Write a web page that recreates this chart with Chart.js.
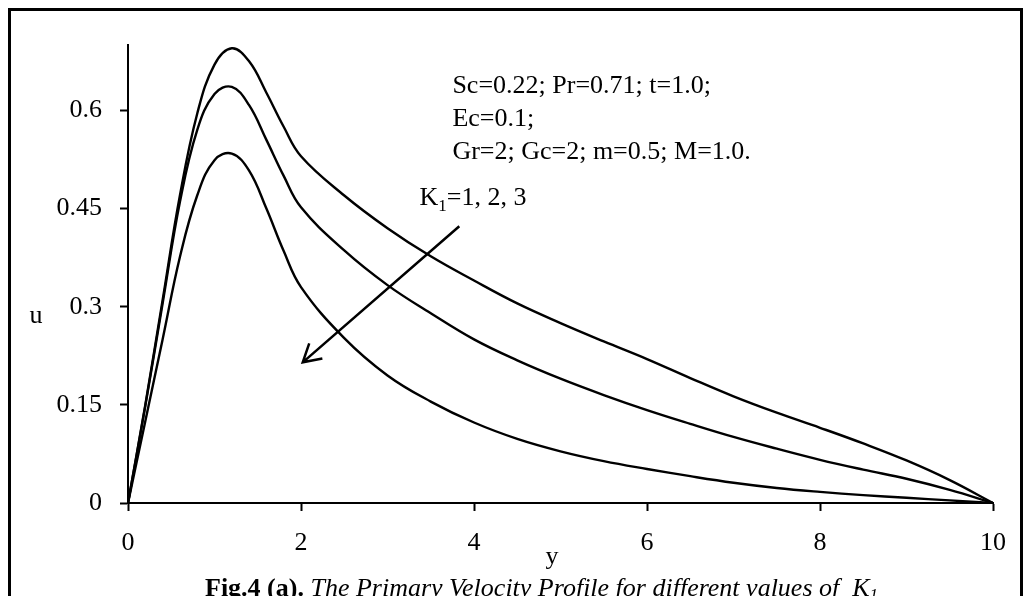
<!DOCTYPE html>
<html>
<head>
<meta charset="utf-8">
<script src="https://cdn.jsdelivr.net/npm/chart.js@4.4.1/dist/chart.umd.min.js"></script>
<style>
  html, body { margin: 0; padding: 0; background: #fff; }
</style>
</head>
<body>
<canvas id="graph" width="1023" height="596"></canvas>
<script>
  // y positions (x axis of the plot) shared by the three profiles
  const yPos = [0, 0.2, 0.4, 0.6, 0.8, 1.0, 1.2, 1.4, 1.6, 1.8, 2.0, 2.5, 3.0, 3.5, 4.0, 4.5, 5, 5.5, 6, 6.5, 7, 7.5, 8, 8.5, 9, 9.5, 10];

  // primary velocity u for K1 = 1, 2, 3
  const uK1 = [0, 0.15, 0.31, 0.47, 0.595, 0.67, 0.695, 0.675, 0.627, 0.575, 0.53, 0.47, 0.42, 0.377, 0.34, 0.305, 0.275, 0.247, 0.22, 0.191, 0.163, 0.138, 0.115, 0.091, 0.065, 0.035, 0];
  const uK2 = [0, 0.148, 0.305, 0.46, 0.57, 0.625, 0.636, 0.608, 0.555, 0.50, 0.452, 0.386, 0.333, 0.29, 0.25, 0.218, 0.19, 0.165, 0.142, 0.121, 0.101, 0.083, 0.066, 0.051, 0.037, 0.02, 0];
  const uK3 = [0, 0.125, 0.25, 0.376, 0.47, 0.524, 0.534, 0.508, 0.45, 0.385, 0.33, 0.252, 0.195, 0.155, 0.123, 0.098, 0.079, 0.064, 0.052, 0.041, 0.031, 0.023, 0.017, 0.012, 0.008, 0.004, 0];

  const xTicks = [0, 2, 4, 6, 8, 10];
  const uTicks = [0, 0.15, 0.3, 0.45, 0.6];

  const paramLines = ['Sc=0.22; Pr=0.71; t=1.0;', 'Ec=0.1;', 'Gr=2; Gc=2; m=0.5; M=1.0.'];

  const serif = "'Liberation Serif', 'Times New Roman', serif";

  function toPoints(vals) {
    return yPos.map((v, i) => ({ x: v, y: vals[i] }));
  }

  // text, arrow, axis names, caption and frame drawn over the chart
  const annotations = {
    id: 'annotations',
    afterDraw(chart) {
      const { ctx, scales: { x, y } } = chart;
      ctx.save();
      ctx.fillStyle = '#000';
      ctx.strokeStyle = '#000';

      // outer frame
      ctx.lineWidth = 3;
      ctx.strokeRect(9.5, 9.5, 1012, 700);

      // parameter block
      ctx.font = '26px ' + serif;
      ctx.textAlign = 'left';
      ctx.textBaseline = 'alphabetic';
      const px = x.getPixelForValue(3.75);
      const py = y.getPixelForValue(0.627);
      paramLines.forEach((line, i) => ctx.fillText(line, px, py + i * 33));

      // K1 = 1, 2, 3 label
      let kx = x.getPixelForValue(3.37);
      const ky = y.getPixelForValue(0.455);
      ctx.fillText('K', kx, ky);
      kx += ctx.measureText('K').width;
      ctx.font = '17px ' + serif;
      ctx.fillText('1', kx, ky + 6);
      kx += ctx.measureText('1').width;
      ctx.font = '26px ' + serif;
      ctx.fillText('=1, 2, 3', kx, ky);

      // arrow
      const ax0 = x.getPixelForValue(3.83), ay0 = y.getPixelForValue(0.423);
      const ax1 = x.getPixelForValue(2.02), ay1 = y.getPixelForValue(0.215);
      ctx.lineWidth = 2.5;
      ctx.beginPath();
      ctx.moveTo(ax0, ay0);
      ctx.lineTo(ax1, ay1);
      const ang = Math.atan2(ay0 - ay1, ax0 - ax1);
      const head = 20, spread = Math.PI / 6;
      ctx.moveTo(ax1 + head * Math.cos(ang - spread), ay1 + head * Math.sin(ang - spread));
      ctx.lineTo(ax1, ay1);
      ctx.lineTo(ax1 + head * Math.cos(ang + spread), ay1 + head * Math.sin(ang + spread));
      ctx.stroke();

      // axis names
      ctx.textAlign = 'center';
      ctx.fillText('u', 36, y.getPixelForValue(0.3) + 16);
      ctx.fillText('y', 552, 564);

      // caption
      ctx.textAlign = 'left';
      let cx = 205;
      const cy = 596;
      ctx.font = 'bold 26px ' + serif;
      ctx.fillText('Fig.4 (a).', cx, cy);
      cx += ctx.measureText('Fig.4 (a). ').width;
      ctx.font = 'italic 26px ' + serif;
      const capText = 'The Primary Velocity Profile for different values of  K';
      ctx.fillText(capText, cx, cy);
      cx += ctx.measureText(capText).width;
      ctx.font = 'italic 17px ' + serif;
      ctx.fillText('1', cx, cy + 4);

      ctx.restore();
    }
  };

  const ctx = document.getElementById('graph').getContext('2d');
  const lineStyle = { borderColor: '#000', borderWidth: 2.4, pointRadius: 0, fill: false, tension: 0.4 };

  new Chart(ctx, {
    type: 'line',
    data: {
      datasets: [
        Object.assign({ label: 'K1=1', data: toPoints(uK1) }, lineStyle),
        Object.assign({ label: 'K1=2', data: toPoints(uK2) }, lineStyle),
        Object.assign({ label: 'K1=3', data: toPoints(uK3) }, lineStyle)
      ]
    },
    options: {
      responsive: false,
      animation: false,
      layout: { padding: { left: 0, right: 28, top: 45, bottom: 0 } },
      plugins: { legend: { display: false }, tooltip: { enabled: false } },
      scales: {
        x: {
          type: 'linear',
          min: 0,
          max: 10,
          afterBuildTicks: s => { s.ticks = xTicks.map(v => ({ value: v })); },
          afterFit: s => { s.height = 93; },
          ticks: { color: '#000', font: { family: serif, size: 26 }, padding: 17, maxRotation: 0 },
          grid: { drawOnChartArea: false, drawTicks: true, tickLength: 8, color: '#000', tickWidth: 2 },
          border: { display: true, color: '#000', width: 2 }
        },
        y: {
          type: 'linear',
          min: 0,
          max: 0.7,
          afterBuildTicks: s => { s.ticks = uTicks.map(v => ({ value: v })); },
          afterFit: s => { s.width = 128; },
          ticks: {
            color: '#000',
            font: { family: serif, size: 26 },
            padding: 18,
            callback: v => String(+v.toFixed(2))
          },
          grid: { drawOnChartArea: false, drawTicks: true, tickLength: 8, color: '#000', tickWidth: 2 },
          border: { display: true, color: '#000', width: 2 }
        }
      }
    },
    plugins: [annotations]
  });
</script>
</body>
</html>
